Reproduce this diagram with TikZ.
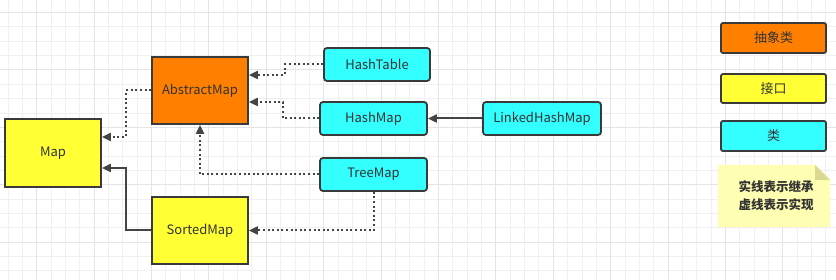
\documentclass[tikz,border=0pt]{standalone}
\usepackage{fontspec}
\setmainfont{Noto Sans CJK SC}
\usepackage{tikz}
\usetikzlibrary{arrows.meta,positioning,calc}
\usepackage{xcolor}

\definecolor{absorange}{HTML}{FF8000}
\definecolor{ifyellow}{HTML}{FFFF33}
\definecolor{clscyan}{HTML}{33FFFF}
\definecolor{edgegray}{HTML}{3A3A3A}
\definecolor{linegray}{HTML}{444444}
\definecolor{txtgray}{HTML}{333333}
\definecolor{gridminor}{HTML}{F0F0F0}
\definecolor{gridmajor}{HTML}{E4E4E4}
\definecolor{notefill}{HTML}{FFFFB3}
\definecolor{notefold}{HTML}{D9D98F}

\tikzset{
  box/.style={draw=edgegray, line width=1.8pt, text=txtgray, font=\fontsize{13}{15}\selectfont, inner sep=0pt},
  absbox/.style={box, fill=absorange},
  ifbox/.style={box, fill=ifyellow},
  clsbox/.style={box, fill=clscyan, rounded corners=3pt},
  extends/.style={draw=linegray, line width=2pt, -{Triangle[length=9pt,width=8pt]}},
  implements/.style={draw=linegray, line width=2pt, dash pattern=on 2pt off 2.6pt, -{Triangle[length=9pt,width=8pt]}},
}

\begin{document}
\begin{tikzpicture}[x=1pt, y=-1pt]
    \useasboundingbox (0,0) rectangle (836,280);

    % background grid
    \foreach \k in {0,...,57} {
        \draw[gridminor, line width=1pt] ({8+14.35*\k},0) -- ({8+14.35*\k},280);
    }
    \foreach \k in {0,...,19} {
        \draw[gridminor, line width=1pt] (0,{12.6+14.35*\k}) -- (836,{12.6+14.35*\k});
    }
    \foreach \k in {0,...,14} {
        \draw[gridmajor, line width=1pt] ({36.7+57.4*\k},0) -- ({36.7+57.4*\k},280);
    }
    \foreach \k in {0,...,4} {
        \draw[gridmajor, line width=1pt] (0,{12.6+57.4*\k}) -- (836,{12.6+57.4*\k});
    }

    % interfaces and abstract class
    \node[ifbox, minimum width=96pt, minimum height=68pt] (map) at (53,153) {Map};
    \node[absbox, minimum width=96pt, minimum height=67pt] (abstract) at (200,90.5) {AbstractMap};
    \node[ifbox, minimum width=96pt, minimum height=67pt] (sorted) at (200,230.5) {SortedMap};

    % classes
    \node[clsbox, minimum width=106pt, minimum height=33pt] (hashtable) at (377,64.5) {HashTable};
    \node[clsbox, minimum width=107pt, minimum height=33pt] (hashmap) at (373.5,118.5) {HashMap};
    \node[clsbox, minimum width=107pt, minimum height=33pt] (treemap) at (373.5,174.5) {TreeMap};
    \node[clsbox, minimum width=118pt, minimum height=33pt] (linked) at (542,118.5) {LinkedHashMap};

    % inheritance (solid)
    \draw[extends] (sorted.west) -- ++(-25,0) |- ([yshift=-15pt]map.east);
    \draw[extends] (linked.west) -- (hashmap.east);

    % implementation (dotted)
    \draw[implements] (abstract.west) -- ++(-25,0) |- ([yshift=16pt]map.east);
    \draw[implements] (hashtable.west) -- ++(-38,0) |- ([yshift=15.5pt]abstract.east);
    \draw[implements] (hashmap.west) -- ++(-36,0) |- ([yshift=-11.5pt]abstract.east);
    \draw[implements] (treemap.west) -| (abstract.south);
    \draw[implements] (treemap.south) |- (sorted.east);

    % legend
    \node[absbox, rounded corners=2pt, minimum width=105pt, minimum height=30pt] (legabs) at (773.5,38) {抽象类};
    \node[ifbox, rounded corners=2pt, minimum width=105pt, minimum height=29pt] (legif) at (773.5,88.5) {接口};
    \node[clsbox, rounded corners=2pt, minimum width=105pt, minimum height=30pt] (legcls) at (773.5,136) {类};

    % note
    \fill[notefill] (718,165) -- (815,165) -- (830,180) -- (830,227) -- (718,227) -- cycle;
    \fill[notefold] (815,165) -- (830,180) -- (815,180) -- cycle;
    \node[text=txtgray, font=\fontsize{12.5}{18}\selectfont\bfseries, align=center] (note) at (776,196) {实线表示继承\\虚线表示实现};
\end{tikzpicture}
\end{document}
